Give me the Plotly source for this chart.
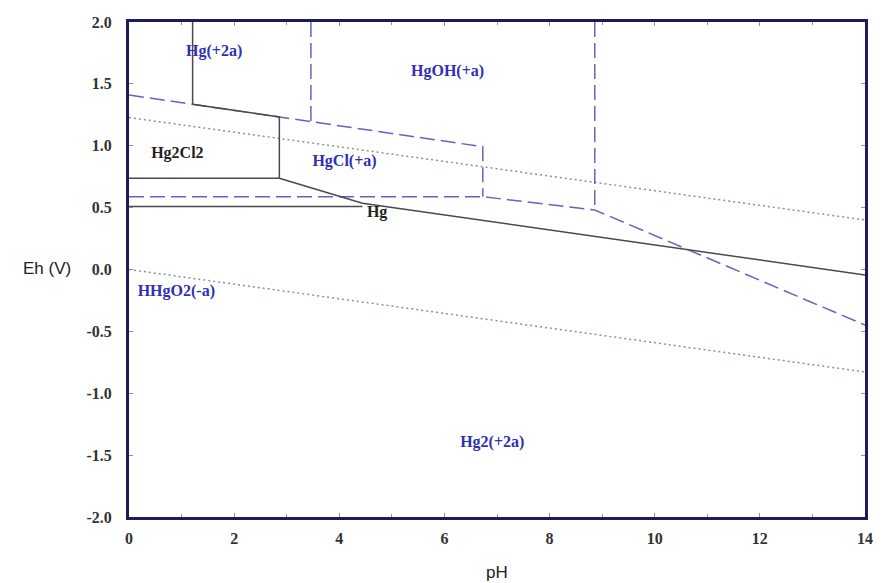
import plotly.graph_objects as go

# ---- data (pH, Eh) ----
# solid black boundaries
hg2cl2_top_x = [1.21, 1.21, 2.86, 2.86, 0.0]
hg2cl2_top_y = [2.0, 1.335, 1.233, 0.737, 0.737]
hg_upper_x = [2.86, 4.44, 14.0]
hg_upper_y = [0.737, 0.535, -0.044]
hg_lower_x = [0.0, 4.44]
hg_lower_y = [0.51, 0.51]

# blue dashed boundaries
dashA_x = [0.0, 6.73, 6.73]
dashA_y = [1.41, 0.992, 0.588]
dashB_x = [0.0, 6.73, 8.86, 14.0]
dashB_y = [0.588, 0.588, 0.481, -0.449]
dashC_x = [3.46, 3.46]
dashC_y = [2.0, 1.195]
dashD_x = [8.86, 8.86]
dashD_y = [2.0, 0.481]

# water stability (dotted)
water_pH = [0.0, 14.0]
o2_Eh = [1.228, 0.400]
h2_Eh = [0.0, -0.828]

# region labels
lab_text = ["Hg(+2a)", "HgOH(+a)", "Hg2Cl2", "HgCl(+a)", "Hg", "HHgO2(-a)", "Hg2(+2a)"]
lab_x = [1.62, 6.06, 0.92, 4.10, 4.72, 0.90, 6.91]
lab_y = [1.76, 1.60, 0.93, 0.87, 0.455, -0.18, -1.40]
lab_col = ["#2e2eb8", "#2e2eb8", "#222222", "#2e2eb8", "#222222", "#2e2eb8", "#2e2eb8"]

x_ticks = [0, 2, 4, 6, 8, 10, 12, 14]
y_ticks = [2.0, 1.5, 1.0, 0.5, 0.0, -0.5, -1.0, -1.5, -2.0]

BLUE = "#6464c0"
BLACK = "#4a4a4a"
DOT = "#7a9a90"

fig = go.Figure()

def add(x, y, color, dash, width):
    fig.add_trace(go.Scatter(x=x, y=y, mode="lines",
                             line=dict(color=color, dash=dash, width=width),
                             hoverinfo="skip", showlegend=False))

add(water_pH, o2_Eh, DOT, "2px,3px", 1.5)
add(water_pH, h2_Eh, DOT, "2px,3px", 1.5)
add(dashA_x, dashA_y, BLUE, "15px,6px", 1.5)
add(dashB_x, dashB_y, BLUE, "15px,6px", 1.5)
add(dashC_x, dashC_y, BLUE, "15px,6px", 1.5)
add(dashD_x, dashD_y, BLUE, "15px,6px", 1.5)
add(hg2cl2_top_x, hg2cl2_top_y, BLACK, "solid", 1.5)
add(hg_upper_x, hg_upper_y, BLACK, "solid", 1.5)
add(hg_lower_x, hg_lower_y, BLACK, "solid", 1.5)

fig.add_trace(go.Scatter(x=lab_x, y=lab_y, mode="text", text=lab_text,
                         textfont=dict(family="Liberation Serif", size=16,
                                       color=lab_col, weight="bold"),
                         hoverinfo="skip", showlegend=False))

tick_font = dict(family="Liberation Serif", size=16, color="#333333", weight="bold")
axis_common = dict(showgrid=False, zeroline=False, showline=True, linecolor="#1c1c5c",
                   linewidth=3, mirror="ticks", ticks="inside", ticklen=4,
                   tickcolor="#9090b0", tickwidth=1, tickfont=tick_font)

plot_w = 884 - 129 - 11
plot_h = 583 - 22 - 66

fig.update_layout(
    width=884, height=583,
    margin=dict(l=129, r=11, t=22, b=66),
    paper_bgcolor="white", plot_bgcolor="white",
    xaxis=dict(range=[0, 14], tickvals=x_ticks, ticktext=[str(v) for v in x_ticks],
               minor=dict(dtick=1, ticks="inside", ticklen=3, tickcolor="#9090b0"),
               ticklabelstandoff=5, **axis_common),
    yaxis=dict(range=[-2, 2], tickvals=y_ticks, ticktext=[f"{v:.1f}" for v in y_ticks],
               ticklabelstandoff=11, **axis_common),
    annotations=[
        dict(text="Eh (V)", x=(46 - 129) / plot_w, y=(517 - 268) / plot_h,
             xref="paper", yref="paper", xanchor="center", yanchor="middle", showarrow=False,
             font=dict(family="Liberation Sans", size=17, color="#222222")),
        dict(text="pH", x=0.5, y=(517 - 572) / plot_h, xref="paper", yref="paper",
             xanchor="center", yanchor="middle", showarrow=False,
             font=dict(family="Liberation Sans", size=17, color="#222222")),
    ],
)

fig.write_html("out.html")
